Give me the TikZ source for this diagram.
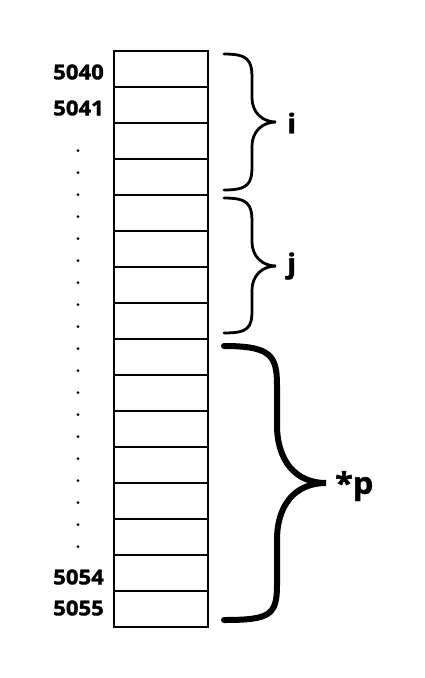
\documentclass[tikz,border=0pt]{standalone}
\usepackage{fontspec}
\setmainfont{Open Sans}[BoldFeatures={FakeBold=1.6,FakeStretch=1.08}]
\begin{document}
\begin{tikzpicture}[x=1pt,y=-1pt,
  cell/.style={draw=black,line width=2pt,minimum width=94pt,minimum height=36pt,inner sep=0pt,outer sep=0pt},
  addr/.style={anchor=east,inner sep=0pt,font=\fontsize{20.5}{22}\selectfont\bfseries},
  blabel/.style={anchor=west,inner sep=0pt,font=\fontsize{27}{30}\selectfont\bfseries},
  thinbrace/.style={line width=2.8pt,line cap=round},
  thickbrace/.style={line width=6pt,line cap=round},
  vdot/.style={fill=black}]
\useasboundingbox (0,0) rectangle (424,678);
\foreach \k in {1,...,16}{
  \node[cell] (c\k) at (161,{51+36*(\k-1)+18}) {};
}
\node[addr] (a5040) at (104,72) {5040};
\node[addr] (a5041) at (104,108) {5041};
\node[addr] (a5054) at (104,577) {5054};
\node[addr] (a5055) at (104,608) {5055};
\foreach \k in {0,...,18}{
  \fill[vdot] (78,{150.7+22*\k}) circle (1.5pt);
}
% brace i
\coordinate (it) at (224,54);
\coordinate (ib) at (224,190);
\coordinate (im) at (276,122);
\draw[thinbrace] (it) .. controls (248,54) and (252,60) .. (252,78) -- (252,98)
  .. controls (252,112) and (262,122) .. (im)
  .. controls (262,122) and (252,132) .. (252,146) -- (252,166)
  .. controls (252,184) and (248,190) .. (ib);
\node[blabel] (li) at (287,123) {i};
% brace j
\coordinate (jt) at (224,198);
\coordinate (jb) at (224,333);
\coordinate (jm) at (276,266);
\draw[thinbrace] (jt) .. controls (248,198) and (252,204) .. (252,222) -- (252,242)
  .. controls (252,256) and (262,266) .. (jm)
  .. controls (262,266) and (252,276) .. (252,290) -- (252,310)
  .. controls (252,328) and (248,333) .. (jb);
\node[blabel] (lj) at (287,266) {j};
% brace *p
\coordinate (pt) at (224,346);
\coordinate (pb) at (224,620);
\coordinate (pm) at (326,483);
\draw[thickbrace] (pt) .. controls (270,346) and (277,355) .. (277,385) -- (277,425)
  .. controls (277,460) and (295,483) .. (pm)
  .. controls (295,483) and (277,505) .. (277,540) -- (277,585)
  .. controls (277,615) and (270,620) .. (pb);
\node[blabel,font=\fontsize{30}{32}\selectfont\bfseries] (lp) at (335,486) {*p};
\end{tikzpicture}
\end{document}
